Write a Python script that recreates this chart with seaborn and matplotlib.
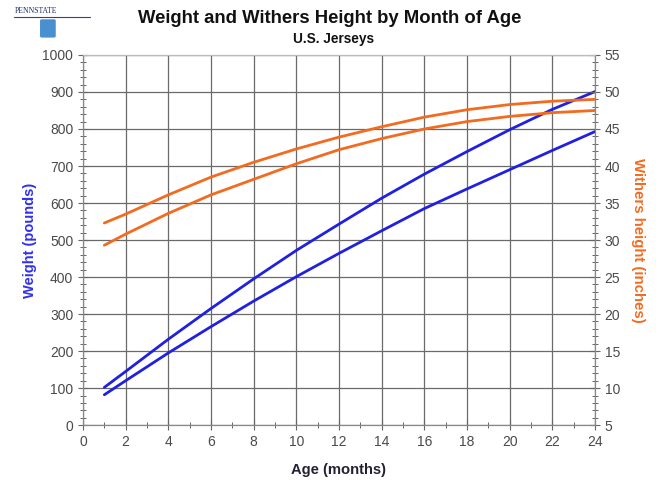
import numpy as np
import pandas as pd
import matplotlib.pyplot as plt
import matplotlib.patches as mpatches
from matplotlib.ticker import MultipleLocator
import seaborn as sns

# values
months = [1, 2, 4, 6, 8, 10, 12, 14, 16, 18, 20, 22, 24]
weight_upper = [102, 145, 232, 315, 395, 472, 543, 613, 678, 739, 798, 853, 901]
weight_lower = [82, 120, 195, 266, 335, 401, 464, 525, 585, 638, 690, 742, 793]
height_upper = [32.3, 33.5, 36.1, 38.5, 40.5, 42.3, 43.9, 45.3, 46.6, 47.6, 48.3, 48.75, 49.0]
height_lower = [29.3, 30.8, 33.6, 36.1, 38.2, 40.3, 42.2, 43.7, 45.0, 46.0, 46.7, 47.2, 47.5]

x_ticks = list(range(0, 25, 2))
weight_ticks = list(range(0, 1001, 100))
height_ticks = list(range(5, 56, 5))

blue = "#2020E0"
orange = "#F26B1F"
grid_col = "#6a6a6a"
tick_col = "#4a4a4a"

weight_df = pd.DataFrame({
    "month": months * 2,
    "value": weight_upper + weight_lower,
    "curve": ["upper"] * len(months) + ["lower"] * len(months),
})
height_df = pd.DataFrame({
    "month": months * 2,
    "value": height_upper + height_lower,
    "curve": ["upper"] * len(months) + ["lower"] * len(months),
})

sns.set_style("white")
plt.rcParams["font.family"] = ["Liberation Sans", "DejaVu Sans"]

fig = plt.figure(figsize=(6.56, 4.82), dpi=100)
ax = fig.add_axes([0.1265, 0.118, 0.7805, 0.768])
ax2 = ax.twinx()

sns.lineplot(data=weight_df, x="month", y="value", units="curve", estimator=None,
             color=blue, linewidth=2.0, ax=ax, legend=False)
sns.lineplot(data=height_df, x="month", y="value", units="curve", estimator=None,
             color=orange, linewidth=2.0, ax=ax2, legend=False)

ax.set_xlim(0, 24)
ax.set_ylim(0, 1000)
ax2.set_ylim(5, 55)

ax.set_xticks(x_ticks)
ax.set_yticks(weight_ticks)
ax2.set_yticks(height_ticks)
ax.xaxis.set_minor_locator(MultipleLocator(1))
ax.yaxis.set_minor_locator(MultipleLocator(20))
ax2.yaxis.set_minor_locator(MultipleLocator(1))

ax.grid(True, which="major", color=grid_col, linewidth=0.9)
ax.set_axisbelow(True)
ax2.grid(False)

for a in (ax, ax2):
    for side in ("top", "left", "right", "bottom"):
        a.spines[side].set_visible(True)
        a.spines[side].set_color("#888888")
        a.spines[side].set_linewidth(0.8)
ax.spines["top"].set_color("#bbbbbb")
ax2.spines["top"].set_color("#bbbbbb")

ax.tick_params(axis="both", which="major", direction="inout", length=7, width=0.8,
               color="#666666", labelsize=10, labelcolor=tick_col)
ax.tick_params(axis="both", which="minor", direction="inout", length=5, width=0.7,
               color="#666666")
ax.tick_params(axis="x", which="both", bottom=True)
ax.tick_params(axis="y", which="both", left=True)
ax2.tick_params(axis="y", which="major", direction="inout", length=7, width=0.8,
                color="#666666", labelsize=10, labelcolor=tick_col, right=True)
ax2.tick_params(axis="y", which="minor", direction="inout", length=5, width=0.7,
                color="#666666", right=True)

ax.set_xlabel("Age (months)", fontsize=10.6, fontweight="bold", color="#222233", labelpad=10)
ax.set_ylabel("Weight (pounds)", fontsize=10.5, fontweight="bold", color="#3030EE", labelpad=4)
ax2.set_ylabel("Withers height (inches)", fontsize=10.8, fontweight="bold", color=orange,
               rotation=270, labelpad=18)

fig.text(0.502, 0.962, "Weight and Withers Height by Month of Age", ha="center", va="center",
         fontsize=13.3, fontweight="bold", color="#111111")
fig.text(0.509, 0.919, "U.S. Jerseys", ha="center", va="center",
         fontsize=9.8, fontweight="bold", color="#111111")

# small Penn State mark in the corner
fig.text(0.022, 0.978, "PENNSTATE", ha="left", va="center", fontsize=5.5,
         family=["Liberation Serif", "DejaVu Serif"], color="#1a2a6a")
fig.add_artist(plt.Line2D([0.022, 0.137], [0.964, 0.964], color="#3a3a9a", linewidth=0.8))
shield = mpatches.FancyBboxPatch((0.064, 0.925), 0.018, 0.032, boxstyle="round,pad=0.003",
                                 transform=fig.transFigure, facecolor="#4a90d0",
                                 edgecolor="none")
fig.add_artist(shield)

fig.savefig("out.png", dpi=100)
